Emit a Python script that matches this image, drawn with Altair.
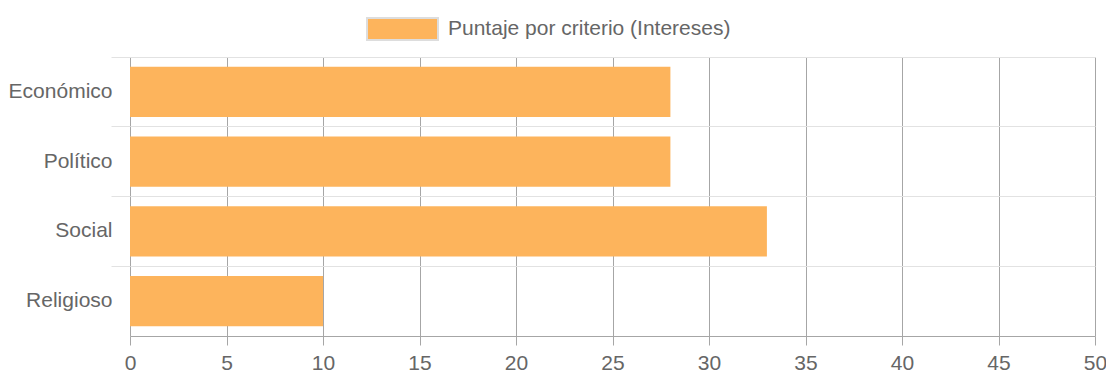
import altair as alt
import pandas as pd

categories = ["Económico", "Político", "Social", "Religioso"]
values = [28, 28, 33, 10]
series_name = "Puntaje por criterio (Intereses)"
x_ticks = [0, 5, 10, 15, 20, 25, 30, 35, 40, 45, 50]

df = pd.DataFrame({"criterio": categories, "puntaje": values, "serie": [series_name] * len(categories)})

FONT = "Liberation Sans"
TXT = "#666666"
FS = 21

chart = alt.Chart(df).mark_bar(height={"band": 0.72}).encode(
    y=alt.Y("criterio:N", sort=categories, title=None,
            scale=alt.Scale(paddingInner=0, paddingOuter=0),
            axis=alt.Axis(bandPosition=0, grid=True, gridColor="#e2e2e2", gridWidth=1,
                          ticks=True, tickColor="#e2e2e2", tickSize=19, domain=False,
                          labelPadding=-1, labelFontSize=FS, labelColor=TXT, labelFont=FONT)),
    x=alt.X("puntaje:Q", title=None,
            scale=alt.Scale(domain=[0, 50], nice=False),
            axis=alt.Axis(values=x_ticks, grid=True, gridColor="#a6a6a6", gridWidth=1,
                          tickColor="#a6a6a6", tickSize=9, domainColor="#a6a6a6",
                          labelPadding=7, labelFontSize=FS, labelColor=TXT, labelFont=FONT,
                          labelFlush=False)),
    color=alt.Color("serie:N", scale=alt.Scale(range=["#FDB45C"]),
                    legend=alt.Legend(title=None, orient="none", legendX=236, legendY=-64.5,
                                      padding=0, labelLimit=0,
                                      symbolType="M-1,-0.31L1,-0.31L1,0.31L-1,0.31Z",
                                      symbolSize=5041, symbolStrokeColor="#dddddd",
                                      symbolStrokeWidth=2, symbolOpacity=1,
                                      labelFontSize=FS, labelColor=TXT, labelFont=FONT,
                                      labelOffset=9)),
).properties(
    width=965, height=279,
    autosize=alt.AutoSizeParams(type="none"),
    padding={"left": 122, "top": 49, "right": 11, "bottom": 40},
).configure_view(stroke=None)

chart.save("out.html", embed_options={"renderer": "svg", "actions": False})
